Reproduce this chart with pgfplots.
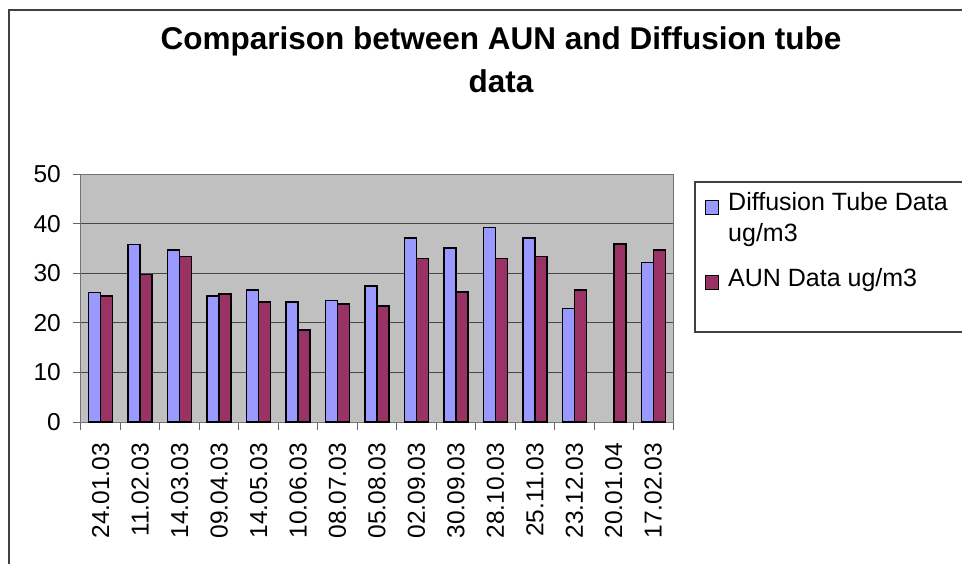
\documentclass[border=0pt]{standalone}
\usepackage{pgfplots}
\pgfplotsset{compat=1.18}
\usepackage{fontspec}
\setmainfont{Liberation Sans}
\definecolor{dtblue}{HTML}{9999FF}
\definecolor{aunred}{HTML}{993366}
\definecolor{plotgrey}{HTML}{C0C0C0}
\pgfplotstableread{
x dt aun
1 26.1 25.4
2 35.8 29.7
3 34.7 33.4
4 25.4 25.8
5 26.6 24.2
6 24.2 18.5
7 24.5 23.8
8 27.4 23.4
9 37.1 33.0
10 35.1 26.2
11 39.2 33.0
12 37.1 33.4
13 22.9 26.6
14 nan 35.9
15 32.2 34.7
}\datatable
\begin{document}
\begin{tikzpicture}[x=1pt,y=1pt]
\useasboundingbox (0,0) rectangle (962,563);
\clip (0,0) rectangle (962,563);
\fill[white] (0,0) rectangle (962,563);
\draw[line width=1.3pt, black!75] (9,-20) -- (9,553) -- (990,553);
\node[font=\fontsize{31.5}{38}\selectfont\bfseries, anchor=base] at (501,513) {Comparison between AUN and Diffusion tube};
\node[font=\fontsize{31.5}{38}\selectfont\bfseries, anchor=base] at (501,470) {data};
\begin{axis}[at={(81pt,141pt)}, anchor=south west, scale only axis,
  width=592pt, height=248pt,
  ybar=0pt, bar width=12pt,
  xmin=0.5, xmax=15.5, ymin=0, ymax=50,
  xtick={0.5,1.5,...,15.5}, xticklabels={},
  extra x ticks={1,...,15},
  extra x tick labels={24.01.03,11.02.03,14.03.03,09.04.03,14.05.03,10.06.03,08.07.03,05.08.03,02.09.03,30.09.03,28.10.03,25.11.03,23.12.03,20.01.04,17.02.03},
  extra x tick style={major tick length=0pt},
  ytick={0,10,...,50},
  tick pos=left,
  /pgf/number format/assume math mode=true,
  axis background/.style={fill=plotgrey},
  ymajorgrids, grid style={black!72, line width=1pt},
  axis line style={black!55, line width=1pt},
  tick align=outside, tick style={black!60, line width=1pt},
  major tick length=8pt,
  tick label style={font=\fontsize{24.5}{29}\selectfont},
  yticklabel style={anchor=east, inner xsep=0pt, xshift=-12pt},
  xticklabel style={rotate=90, anchor=east, inner xsep=0pt, xshift=-21pt},
]
\addplot[draw=black, line width=1.5pt, fill=dtblue] table[x=x, y=dt] {\datatable};
\addplot[draw=black, line width=1.5pt, fill=aunred] table[x=x, y=aun] {\datatable};
\end{axis}
\draw[black!75, line width=1.2pt] (695,231) rectangle (1000,381);
\draw[black, line width=1pt, fill=dtblue] (705,348) rectangle (718,362);
\draw[black, line width=1pt, fill=aunred] (705,273) rectangle (718,287);
\node[font=\fontsize{25}{31}\selectfont, anchor=base west, inner sep=0pt] at (728,352) {Diffusion Tube Data};
\node[font=\fontsize{25}{31}\selectfont, anchor=base west, inner sep=0pt] at (728,321) {ug/m3};
\node[font=\fontsize{25}{31}\selectfont, anchor=base west, inner sep=0pt] at (728,276) {AUN Data ug/m3};
\end{tikzpicture}
\end{document}
